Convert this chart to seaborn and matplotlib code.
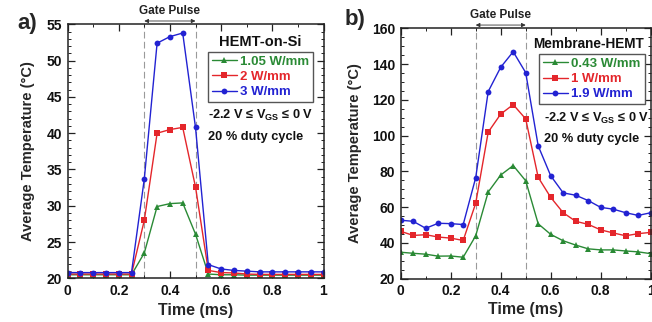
import numpy as np
import pandas as pd
import matplotlib
matplotlib.use("Agg")
import matplotlib.pyplot as plt
import matplotlib.transforms as mtransforms
from matplotlib.ticker import MultipleLocator
import seaborn as sns

# ---- data -------------------------------------------------------------
time_ms = [0.0, 0.05, 0.1, 0.15, 0.2, 0.25, 0.3, 0.35, 0.4, 0.45, 0.5,
           0.55, 0.6, 0.65, 0.7, 0.75, 0.8, 0.85, 0.9, 0.95, 1.0]

# HEMT-on-Si
si_labels = ["1.05 W/mm", "2 W/mm", "3 W/mm"]
si_105 = [20.5, 20.5, 20.5, 20.5, 20.5, 20.5, 23.5, 29.9, 30.3, 30.4, 26.1,
          20.6, 20.5, 20.5, 20.45, 20.45, 20.45, 20.45, 20.45, 20.45, 20.45]
si_2 = [20.6, 20.6, 20.6, 20.6, 20.6, 20.6, 28.0, 40.0, 40.5, 40.8, 32.6,
        21.1, 20.8, 20.75, 20.6, 20.55, 20.55, 20.55, 20.55, 20.55, 20.55]
si_3 = [20.8, 20.8, 20.8, 20.8, 20.8, 20.8, 33.7, 52.4, 53.3, 53.8, 40.8,
        21.9, 21.3, 21.1, 21.0, 20.9, 20.9, 20.9, 20.9, 20.9, 20.9]

# Membrane-HEMT
mem_labels = ["0.43 W/mm", "1 W/mm", "1.9 W/mm"]
mem_043 = [34.7, 34.1, 33.6, 32.5, 32.6, 31.9, 43.9, 68.4, 77.9, 83.2, 74.7,
           50.6, 44.7, 41.1, 38.7, 36.6, 36.0, 36.0, 35.4, 34.9, 33.9]
mem_1 = [46.4, 44.1, 44.5, 43.2, 42.6, 41.3, 62.1, 101.9, 112.0, 117.3, 109.3,
         76.6, 65.4, 56.8, 52.0, 50.3, 47.2, 45.5, 43.9, 45.1, 45.8]
mem_19 = [52.6, 52.0, 48.1, 50.9, 50.7, 50.2, 76.4, 124.6, 138.2, 146.9, 135.2,
          94.2, 77.5, 67.9, 66.6, 63.6, 59.8, 58.8, 56.8, 55.3, 56.8]

pulse_start, pulse_end = 0.3, 0.5

# ---- style ------------------------------------------------------------
sns.set_style("ticks")
plt.rcParams["font.family"] = ["Liberation Sans", "DejaVu Sans"]
plt.rcParams["font.weight"] = "bold"
plt.rcParams["mathtext.default"] = "bf"
plt.rcParams["mathtext.fontset"] = "custom"
plt.rcParams["mathtext.bf"] = "Liberation Sans:bold"

GREEN, RED, BLUE = "#2a8a35", "#e4262b", "#2222d2"
colors = [GREEN, RED, BLUE]
marks = ["^", "s", "o"]
msize = {"^": 3.8, "s": 4.2, "o": 4.2}


def long_frame(labels, series):
    rows = []
    for lab, vals in zip(labels, series):
        for t, v in zip(time_ms, vals):
            rows.append({"time": t, "temp": v, "power": lab})
    return pd.DataFrame(rows)


W, H = 652, 322
fig = plt.figure(figsize=(W / 100, H / 100), dpi=100)
fig.patch.set_facecolor("white")


def px_axes(left, top, right, bottom):
    return fig.add_axes([left / W, 1 - bottom / H, (right - left) / W, (bottom - top) / H])


def panel(ax, labels, series, ylim, ymajor, yminor, title, title_size, title_xy,
          leg_xy, note_xy):
    df = long_frame(labels, series)
    sns.lineplot(data=df, x="time", y="temp", hue="power", style="power",
                 hue_order=labels, style_order=labels,
                 palette=dict(zip(labels, colors)),
                 markers=dict(zip(labels, marks)), dashes=False,
                 linewidth=1.0, markeredgewidth=0, ax=ax)
    for ln in ax.lines:
        m = ln.get_marker()
        if m in msize:
            ln.set_markersize(msize[m])

    for xv in (pulse_start, pulse_end):
        ax.axvline(xv, color="#9a9a9a", lw=0.8, ls=(0, (6, 3)), zorder=0)

    ax.set_xlim(0, 1)
    ax.set_ylim(*ylim)
    ax.xaxis.set_minor_locator(MultipleLocator(0.1))
    ax.yaxis.set_major_locator(MultipleLocator(ymajor))
    ax.yaxis.set_minor_locator(MultipleLocator(yminor))
    ax.set_xticks([0, 0.2, 0.4, 0.6, 0.8, 1.0])
    ax.set_xticklabels(["0", "0.2", "0.4", "0.6", "0.8", "1"])
    ax.tick_params(which="both", direction="in", top=True, right=True,
                   colors="#222222", labelcolor="#111111")
    ax.tick_params(which="major", length=5, width=0.9, labelsize=10, pad=4)
    ax.tick_params(which="minor", length=2.5, width=0.7)
    for lab in ax.get_xticklabels() + ax.get_yticklabels():
        lab.set_fontweight("bold")
    for sp in ax.spines.values():
        sp.set_linewidth(1.1)
        sp.set_color("#222222")

    ax.set_xlabel("Time (ms)", fontsize=11.5, fontweight="bold")
    ax.set_ylabel("Average Temperature (°C)", fontsize=10.5, fontweight="bold")

    # gate pulse marker above the plot
    trans = mtransforms.blended_transform_factory(ax.transData, ax.transAxes)
    ax.annotate("", xy=(pulse_start, 1.013), xytext=(pulse_end, 1.013),
                xycoords=trans, textcoords=trans, annotation_clip=False,
                arrowprops=dict(arrowstyle="<|-|>", color="#333333", lw=0.6,
                                mutation_scale=6, shrinkA=0, shrinkB=0))
    ax.text((pulse_start + pulse_end) / 2, 1.054, "Gate Pulse", transform=trans,
            ha="center", va="center", fontsize=8.5, fontweight="bold", color="#222222")

    ax.text(*title_xy, title, transform=ax.transAxes, ha="center", va="center",
            fontsize=title_size, fontweight="bold", color="#111111")

    leg = ax.legend(loc="upper left", bbox_to_anchor=leg_xy, borderaxespad=0,
                    fontsize=9.5, frameon=True, fancybox=False, framealpha=1,
                    handlelength=1.9, handletextpad=0.25, labelspacing=0.22,
                    borderpad=0.3, title=None)
    leg.get_frame().set_edgecolor("#555555")
    leg.get_frame().set_linewidth(1.0)
    for txt, c in zip(leg.get_texts(), colors):
        txt.set_color(c)
        txt.set_fontweight("bold")

    nx, ny1, ny2 = note_xy
    ax.text(nx, ny1, "-2.2 V ≤ V$_{GS}$ ≤ 0 V", transform=ax.transAxes,
            ha="left", va="center", fontsize=9.2, fontweight="bold", color="#111111")
    ax.text(nx, ny2, "20 % duty cycle", transform=ax.transAxes,
            ha="left", va="center", fontsize=9.2, fontweight="bold", color="#111111")


ax_a = px_axes(67.5, 24.3, 323.5, 278.4)
panel(ax_a, si_labels, [si_105, si_2, si_3], (20, 55), 5, 1, "HEMT-on-Si", 10.5,
      (0.752, 0.932), (0.548, 0.892), (0.55, 0.643, 0.557))
ax_a.yaxis.set_label_coords(-0.125, 0.5)
ax_a.xaxis.set_label_coords(0.5, -0.095)

ax_b = px_axes(400.7, 28.3, 650.7, 278.5)
panel(ax_b, mem_labels, [mem_043, mem_1, mem_19], (20, 160), 20, 5, "Membrane-HEMT", 9.8,
      (0.752, 0.937), (0.553, 0.898), (0.573, 0.640, 0.558))
ax_b.yaxis.set_label_coords(-0.155, 0.5)
ax_b.xaxis.set_label_coords(0.5, -0.092)

fig.text(27 / W, 1 - 24 / H, "a)", ha="center", va="center", fontsize=16, fontweight="bold")
fig.text(355 / W, 1 - 20 / H, "b)", ha="center", va="center", fontsize=16, fontweight="bold")

fig.savefig("out.png", dpi=100, facecolor="white")
